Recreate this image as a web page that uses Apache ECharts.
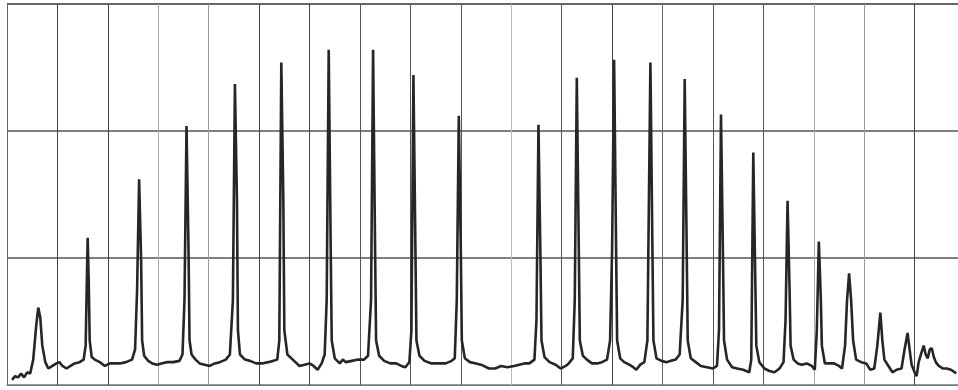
<!DOCTYPE html>
<html>
<head>
<meta charset="utf-8">
<script src="https://cdn.jsdelivr.net/npm/echarts@6/dist/echarts.min.js"></script>
<style>
html,body{margin:0;padding:0;background:#fff;}
#chart{width:958px;height:390px;}
</style>
</head>
<body>
<div id="chart"></div>
<script>
// Position along the scan (arbitrary units, 50 per grid division)
var xValues = [5,8,11,14,17,20,23,26,29,31,33,35,38,41,45,49,52,55,59,63,67,72,76,78,79,80,81,82,84,87,92,97,102,107,112,118,124,127,129,131,133,134,136,140,144,149,153,159,165,171,174,176,178,180,181,183,187,191,196,201,206,211,217,221,224,226,228,229,231,236,241,247,253,259,264,268,270,272,274,275,278,282,286,290,295,300,304,308,312,315,317,319,321,322,325,330,333,336,342,348,354,358,361,363,365,366,369,374,380,386,391,395,399,401,403,405,406,409,414,421,429,435,441,444,446,448,450,451,454,459,465,470,478,484,490,496,503,508,513,518,523,525,527,529,530,533,538,544,549,554,557,561,563,565,567,568,571,575,580,585,590,595,598,600,602,604,605,608,612,617,621,624,628,632,635,638,640,641,644,649,654,658,663,667,670,672,674,675,678,683,688,694,700,704,706,708,710,711,714,719,724,730,736,738,740,742,743,746,751,756,761,766,770,772,774,776,777,780,784,788,793,798,801,803,805,807,808,811,815,820,825,828,831,833,835,837,839,842,847,852,856,860,863,866,868,870,874,878,882,887,890,893,895,897,900,902,904,907,909,911,913,915,917,919,921,924,928,932,936,940,941];
// Signal intensity (arbitrary units, 100 per grid division)
var yValues = [4,7,6,9,6,10,9,20,47,61,53,31,18,13,15,17,18,15,13,15,17,18,20,31,75,116,83,35,22,20,18,15,17,17,17,18,20,28,75,162,98,35,23,19,17,16,17,18,18,19,24,67,204,106,35,24,20,17,16,15,17,18,20,24,67,237,146,43,24,20,19,17,17,18,19,20,35,254,146,43,24,21,18,15,16,17,15,12,17,24,67,264,106,35,21,17,20,18,19,20,20,23,67,264,106,35,23,19,17,17,15,14,18,43,244,106,35,23,19,17,17,17,19,21,67,212,106,35,21,18,17,16,13,13,15,14,15,16,17,17,20,51,205,98,35,22,18,16,13,15,17,21,67,242,106,35,23,20,17,17,18,20,35,106,256,106,35,21,18,16,14,12,16,18,35,254,106,35,21,19,18,19,20,24,67,241,106,35,21,18,15,14,13,15,43,213,98,35,20,14,13,12,10,20,183,83,31,18,13,11,10,13,18,51,145,75,31,20,17,16,17,15,12,43,113,67,31,17,17,17,15,13,31,67,88,67,35,20,18,17,12,13,31,57,35,20,15,10,12,13,28,41,28,16,10,7,18,26,31,24,21,28,29,22,18,15,13,13,12,10,9];

var xMin = 0, xMax = 943, xStep = 50;
var yMin = 0, yMax = 300, yStep = 100;

var vLineColors = ['#666','#444','#444','#aaa','#999','#444','#444','#555','#555','#555','#bbb','#555','#444','#666','#555','#555','#aaa','#999','#444'];
var hLineColors = ['#777','#555','#555','#333'];

var points = xValues.map(function (x, i) { return [x, yValues[i]]; });

var chart = echarts.init(document.getElementById('chart'), null, {renderer: 'canvas'});
chart.setOption({
  animation: false,
  backgroundColor: '#ffffff',
  grid: {left: 7, right: -1, top: 4, bottom: 5},
  xAxis: {
    type: 'value', min: xMin, max: xMax, interval: xStep,
    axisLabel: {show: false}, axisTick: {show: false},
    axisLine: {show: true, lineStyle: {color: '#777', width: 1}},
    splitLine: {show: true, showMaxLine: false, lineStyle: {color: vLineColors, width: 1}}
  },
  yAxis: {
    type: 'value', min: yMin, max: yMax, interval: yStep,
    axisLabel: {show: false}, axisTick: {show: false},
    axisLine: {show: false},
    splitLine: {show: true, lineStyle: {color: hLineColors, width: 1.5}}
  },
  series: [{
    type: 'line',
    data: points,
    showSymbol: false,
    smooth: false,
    lineStyle: {color: '#262626', width: 2.6},
    z: 5
  }]
});
</script>
</body>
</html>
